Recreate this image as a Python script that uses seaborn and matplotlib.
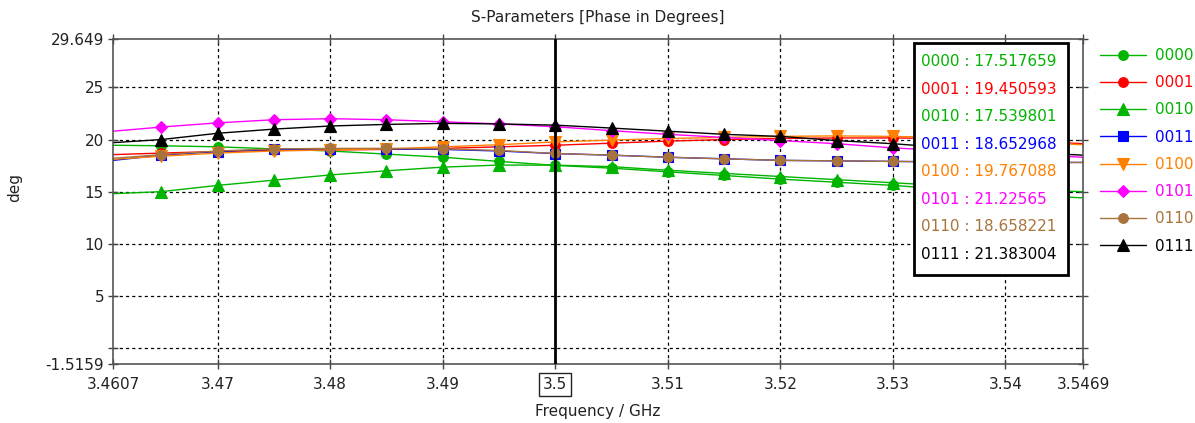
import numpy as np
import pandas as pd
import matplotlib
matplotlib.use("Agg")
import matplotlib.pyplot as plt
import seaborn as sns
from matplotlib.patches import Rectangle

# ---------------- data ----------------
freq = [3.4607, 3.465, 3.47, 3.475, 3.48, 3.485, 3.49, 3.495, 3.5, 3.505,
        3.51, 3.515, 3.52, 3.525, 3.53, 3.535, 3.54, 3.545, 3.5469]

s0000 = [19.45, 19.4, 19.3, 19.1, 18.9, 18.6, 18.3, 17.9, 17.52, 17.25,
         16.9, 16.55, 16.2, 15.9, 15.6, 15.2, 14.9, 14.5, 14.4]
s0001 = [18.55, 18.7, 18.85, 18.95, 19.0, 19.05, 19.15, 19.3, 19.45, 19.65,
         19.85, 20.0, 20.1, 20.15, 20.15, 20.1, 19.9, 19.7, 19.6]
s0010 = [14.8, 15.0, 15.6, 16.1, 16.6, 17.0, 17.35, 17.55, 17.54, 17.4,
         17.05, 16.75, 16.45, 16.15, 15.85, 15.55, 15.3, 15.05, 15.0]
s0011 = [18.0, 18.5, 18.85, 19.05, 19.1, 19.1, 19.05, 18.9, 18.65, 18.5,
         18.3, 18.15, 18.0, 17.95, 17.9, 17.85, 17.8, 17.8, 17.8]
s0100 = [18.1, 18.4, 18.7, 18.9, 19.0, 19.1, 19.3, 19.5, 19.77, 19.95,
         20.1, 20.2, 20.3, 20.35, 20.3, 20.2, 19.9, 19.6, 19.5]
s0101 = [20.8, 21.2, 21.6, 21.9, 22.0, 21.9, 21.7, 21.5, 21.23, 20.85,
         20.5, 20.2, 19.9, 19.6, 19.2, 18.9, 18.6, 18.4, 18.3]
s0110 = [18.2, 18.55, 18.9, 19.1, 19.15, 19.15, 19.1, 18.95, 18.66, 18.5,
         18.3, 18.15, 18.0, 17.95, 17.9, 17.85, 17.8, 17.8, 17.8]
s0111 = [19.7, 20.0, 20.6, 21.0, 21.3, 21.45, 21.55, 21.5, 21.38, 21.1,
         20.8, 20.5, 20.3, 19.9, 19.6, 19.2, 18.9, 18.6, 18.5]

series_names = ["0000", "0001", "0010", "0011", "0100", "0101", "0110", "0111"]
series_values = [s0000, s0001, s0010, s0011, s0100, s0101, s0110, s0111]
marker_values = ["17.517659", "19.450593", "17.539801", "18.652968",
                 "19.767088", "21.22565", "18.658221", "21.383004"]

x_ticks = [3.4607, 3.47, 3.48, 3.49, 3.5, 3.51, 3.52, 3.53, 3.54, 3.5469]
x_ticklabels = ["3.4607", "3.47", "3.48", "3.49", "3.5", "3.51", "3.52",
                "3.53", "3.54", "3.5469"]
y_ticks = [-1.5159, 0, 5, 10, 15, 20, 25, 29.649]
y_ticklabels = ["-1.5159", "", "5", "10", "15", "20", "25", "29.649"]
marker_freq = 3.5

colors = ["#00b400", "#ff0000", "#00b400", "#0000ff",
          "#ff8000", "#ff00ff", "#a8743c", "#000000"]
markers = ["o", "o", "^", "s", "v", "D", "o", "^"]
msizes = [7, 7, 8, 7, 8, 6, 7, 8]

FS = 11

# ---------------- plot ----------------
sns.set_theme(style="white")
plt.rcParams["font.family"] = ["DejaVu Sans"]

fig = plt.figure(figsize=(11.95, 4.23), dpi=100)
ax = fig.add_axes([0.0946, 0.1402, 0.8117, 0.7676])

mark_idx = [i for i, f in enumerate(freq) if 3.4645 <= f <= 3.5305]

handles = []
for name, vals, c, m, ms in zip(series_names, series_values, colors, markers, msizes):
    sns.lineplot(x=freq, y=vals, ax=ax, color=c, marker=m, markersize=ms,
                 markevery=mark_idx, markeredgecolor=c, markeredgewidth=0.8,
                 linewidth=1.0, alpha=1.0, label=name, legend=False)
    handles.append(ax.get_lines()[-1])

# marker line
ax.axvline(marker_freq, color="black", linewidth=2.0, zorder=5)

ax.set_xlim(3.4607, 3.5469)
ax.set_ylim(-1.5159, 29.649)
ax.set_xticks(x_ticks)
ax.set_xticklabels(x_ticklabels, fontsize=FS, color="#222222")
ax.set_yticks(y_ticks)
ax.set_yticklabels(y_ticklabels, fontsize=FS, color="#222222")

# grid (dashed) only at interior ticks
for xv in x_ticks[1:-1]:
    if xv != marker_freq:
        ax.axvline(xv, color="black", linestyle=(0, (2.5, 2.5)), linewidth=0.9, zorder=0.5)
for yv in y_ticks[1:-1]:
    ax.axhline(yv, color="black", linestyle=(0, (2.5, 2.5)), linewidth=0.9, zorder=0.5)

ax.tick_params(axis="both", direction="inout", length=7, width=1.0,
               colors="#444444", labelcolor="#222222", pad=3,
               top=True, right=True, bottom=True, left=True)
ax.tick_params(axis="x", pad=6)
for sp in ax.spines.values():
    sp.set_color("#555555")
    sp.set_linewidth(1.2)

# boxed marker tick label
for lbl in ax.get_xticklabels():
    if lbl.get_text() == "3.5":
        lbl.set_bbox(dict(boxstyle="square,pad=0.25", facecolor="white",
                          edgecolor="#222222", linewidth=1.0))

ax.set_title("S-Parameters [Phase in Degrees]", fontsize=FS, color="#222222", pad=12)
ax.set_xlabel("Frequency / GHz", fontsize=FS, color="#222222", labelpad=9)
ax.set_ylabel("deg", fontsize=FS, color="#222222")
ax.yaxis.set_label_coords((22 - 113) / 970.0, (363.7 - 188) / 324.7)

# marker value box
trans = ax.transAxes
bx0 = (914 - 113) / 970.0
bx1 = (1068 - 113) / 970.0
by1 = (363.7 - 43) / 324.7
by0 = (363.7 - 275) / 324.7
ax.add_patch(Rectangle((bx0, by0), bx1 - bx0, by1 - by0, transform=trans,
                       facecolor="white", edgecolor="black", linewidth=2.0,
                       zorder=10, clip_on=False))
row_y = [61.7 + 27.5 * i for i in range(8)]
for name, val, c, yy in zip(series_names, marker_values, colors, row_y):
    ax.text((921 - 113) / 970.0, (363.7 - yy) / 324.7, f"{name} : {val}",
            transform=trans, color=c, fontsize=FS, va="center", ha="left",
            zorder=11)

# legend on the right
leg = ax.legend(handles=handles, labels=series_names, loc="upper left",
                bbox_to_anchor=((1100 - 113) / 970.0, (363.7 - 48) / 324.7),
                frameon=False, fontsize=FS, labelcolor="linecolor",
                handlelength=3.0, handletextpad=0.6, labelspacing=0.8,
                borderaxespad=0.0, borderpad=0.0, markerscale=1.0)

fig.savefig("out.png", dpi=100)
